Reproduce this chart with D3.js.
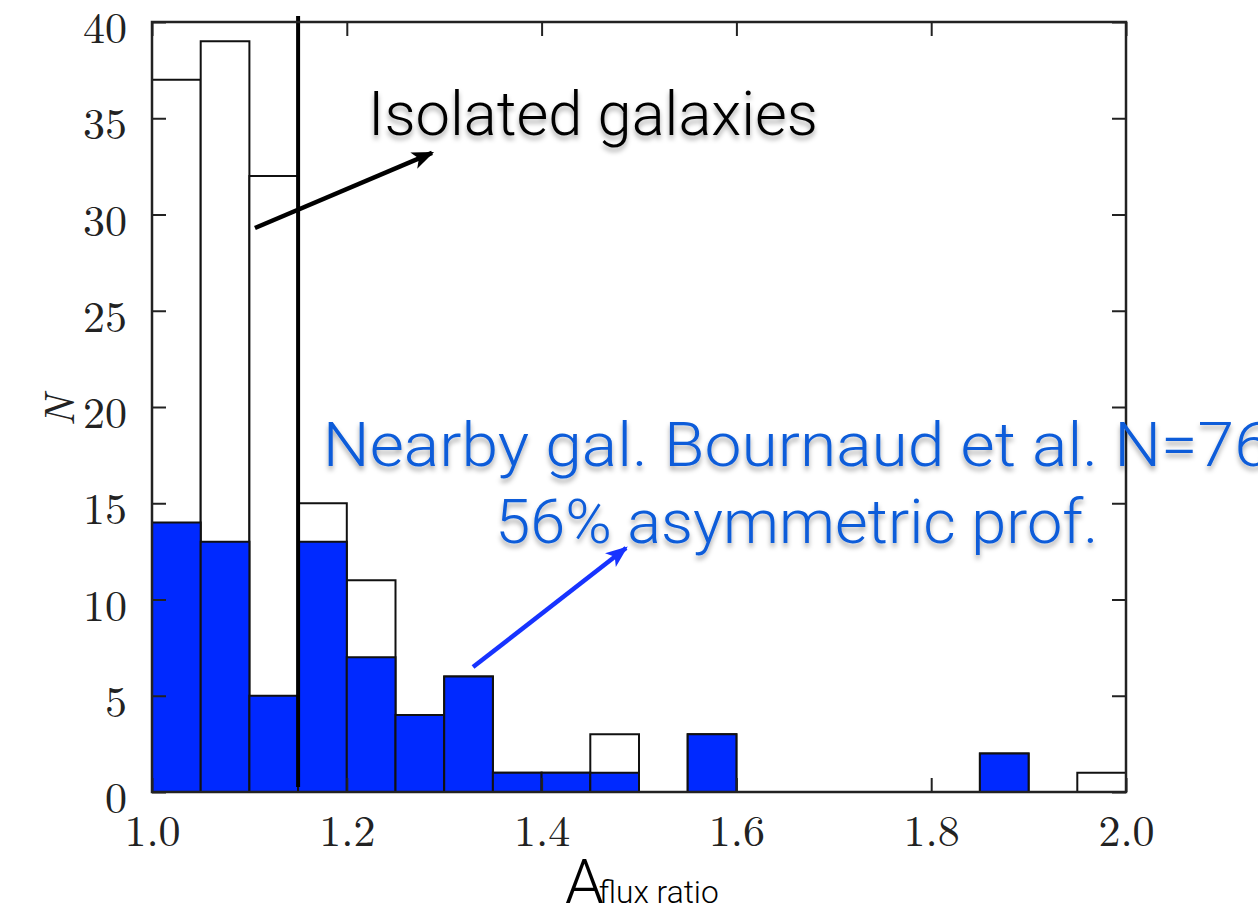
<!DOCTYPE html>
<html>
<head>
<meta charset="utf-8">
<script src="https://cdn.jsdelivr.net/npm/d3@7"></script>
<style>
  html, body { margin: 0; padding: 0; background: #fff; }
  svg { display: block; }
</style>
</head>
<body>
<svg id="chart" width="1258" height="911"></svg>
<script>
// Histogram bins of the flux-ratio asymmetry
const binEdges = [1.00, 1.05, 1.10, 1.15, 1.20, 1.25, 1.30, 1.35, 1.40, 1.45, 1.50,
                  1.55, 1.60, 1.65, 1.70, 1.75, 1.80, 1.85, 1.90, 1.95, 2.00];
// Isolated galaxies (open bars)
const isolatedCounts = [37, 39, 32, 15, 11, 4, 6, 1, 1, 3, 0, 3, 0, 0, 0, 0, 0, 2, 0, 1];
// Nearby galaxies, Bournaud et al. (filled bars)
const nearbyCounts   = [14, 13, 5, 13, 7, 4, 6, 1, 1, 1, 0, 3, 0, 0, 0, 0, 0, 2, 0, 0];
// Asymmetry threshold
const threshold = 1.15;

const xTicks = [1.0, 1.2, 1.4, 1.6, 1.8, 2.0];
const yTicks = [0, 5, 10, 15, 20, 25, 30, 35, 40];

const xDomain = [1.0, 2.0];
const yDomain = [0, 40];

// Annotation anchors in data units
const isolatedArrow = { from: [1.1057, 29.3], to: [1.2875, 33.2] };
const nearbyArrow   = { from: [1.3296, 6.49], to: [1.4867, 12.68] };
const isolatedText  = { x: 1.2218, y: 34.13, text: "Isolated galaxies" };
const nearbyText    = { x: 1.662, lines: [
  { y: 16.94, text: "Nearby gal. Bournaud et al. N=76" },
  { y: 12.94, text: "56% asymmetric prof." }
]};

(function draw() {
  const svg = d3.select("#chart");
  const pLeft = 152, pRight = 1126, pTop = 22, pBottom = 792;

  const x = d3.scaleLinear().domain(xDomain).range([pLeft, pRight]);
  const y = d3.scaleLinear().domain(yDomain).range([pBottom, pTop]);

  const defs = svg.append("defs");
  const shadow = defs.append("filter").attr("id", "txtShadow")
    .attr("x", "-10%").attr("y", "-30%").attr("width", "120%").attr("height", "170%");
  shadow.append("feDropShadow").attr("dx", 0).attr("dy", 4).attr("stdDeviation", 2.5)
    .attr("flood-color", "#000").attr("flood-opacity", 0.35);

  function arrowMarker(id, color) {
    defs.append("marker").attr("id", id)
      .attr("viewBox", "0 0 20 16").attr("refX", 18).attr("refY", 8)
      .attr("markerWidth", 22).attr("markerHeight", 18)
      .attr("markerUnits", "userSpaceOnUse").attr("orient", "auto")
      .append("path").attr("d", "M0,0 L20,8 L0,16 L5,8 Z").attr("fill", color);
  }
  arrowMarker("headBlack", "#000");
  arrowMarker("headBlue", "#1733ff");

  const bins = isolatedCounts.map((c, i) => ({
    x0: binEdges[i], x1: binEdges[i + 1], all: c, nearby: nearbyCounts[i]
  }));

  // Open bars: isolated sample
  svg.append("g").selectAll("rect")
    .data(bins.filter(d => d.all > 0))
    .join("rect")
    .attr("x", d => x(d.x0)).attr("width", d => x(d.x1) - x(d.x0))
    .attr("y", d => y(d.all)).attr("height", d => y(0) - y(d.all))
    .attr("fill", "#fff").attr("stroke", "#111").attr("stroke-width", 2);

  // Filled bars: nearby sample
  svg.append("g").selectAll("rect")
    .data(bins.filter(d => d.nearby > 0))
    .join("rect")
    .attr("x", d => x(d.x0)).attr("width", d => x(d.x1) - x(d.x0))
    .attr("y", d => y(d.nearby)).attr("height", d => y(0) - y(d.nearby))
    .attr("fill", "#0029ff").attr("stroke", "#111").attr("stroke-width", 2);

  // Threshold line
  svg.append("line")
    .attr("x1", x(threshold)).attr("x2", x(threshold))
    .attr("y1", pTop - 6).attr("y2", pBottom - 5)
    .attr("stroke", "#000").attr("stroke-width", 4);

  // Axes with inward ticks on all four sides
  const tickFont = "'Latin Modern Roman', 'CMU Serif', 'Liberation Serif', serif";
  const tickLen = 14;

  function styleAxis(g) {
    g.select(".domain").remove();
    g.selectAll(".tick line").attr("stroke", "#222").attr("stroke-width", 2);
    g.selectAll("text").attr("font-family", tickFont).attr("font-size", 44).attr("fill", "#222");
  }

  svg.append("g").attr("transform", `translate(0,${pBottom})`)
    .call(d3.axisBottom(x).tickValues(xTicks).tickFormat(d3.format(".1f"))
      .tickSize(-tickLen).tickPadding(23))
    .call(styleAxis);

  svg.append("g").attr("transform", `translate(0,${pTop})`)
    .call(d3.axisTop(x).tickValues(xTicks).tickFormat("").tickSize(-tickLen))
    .call(styleAxis);

  svg.append("g").attr("transform", `translate(${pLeft},0)`)
    .call(d3.axisLeft(y).tickValues(yTicks).tickFormat(d3.format("d"))
      .tickSize(-tickLen).tickPadding(25))
    .call(styleAxis)
    .selectAll("text").attr("dy", "0.47em");

  svg.append("g").attr("transform", `translate(${pRight},0)`)
    .call(d3.axisRight(y).tickValues(yTicks).tickFormat("").tickSize(-tickLen))
    .call(styleAxis);

  // Frame
  svg.append("rect")
    .attr("x", pLeft).attr("y", pTop).attr("width", pRight - pLeft).attr("height", pBottom - pTop)
    .attr("fill", "none").attr("stroke", "#222").attr("stroke-width", 2.5);

  // Axis titles
  svg.append("text")
    .attr("transform", `translate(74,411) rotate(-90)`)
    .attr("text-anchor", "middle")
    .attr("font-family", tickFont).attr("font-style", "italic").attr("font-size", 42)
    .attr("fill", "#222").text("N");

  const sansFont = "Roboto, 'Helvetica Neue', 'Liberation Sans', Arial, sans-serif";

  const xTitle = svg.append("text")
    .attr("x", 565).attr("y", 903)
    .attr("font-family", sansFont)
    .attr("font-weight", 300).attr("fill", "#000");
  xTitle.append("tspan").attr("font-size", 62).text("A");
  xTitle.append("tspan").attr("font-size", 31).attr("dx", -5)
    .attr("textLength", 120).attr("lengthAdjust", "spacingAndGlyphs").text("flux ratio");

  // Annotations
  svg.append("line")
    .attr("x1", x(isolatedArrow.from[0])).attr("y1", y(isolatedArrow.from[1]))
    .attr("x2", x(isolatedArrow.to[0])).attr("y2", y(isolatedArrow.to[1]))
    .attr("stroke", "#000").attr("stroke-width", 4.5).attr("marker-end", "url(#headBlack)");

  svg.append("line")
    .attr("x1", x(nearbyArrow.from[0])).attr("y1", y(nearbyArrow.from[1]))
    .attr("x2", x(nearbyArrow.to[0])).attr("y2", y(nearbyArrow.to[1]))
    .attr("stroke", "#1733ff").attr("stroke-width", 4.5).attr("marker-end", "url(#headBlue)");

  svg.append("text")
    .attr("x", x(isolatedText.x)).attr("y", y(isolatedText.y))
    .attr("font-family", sansFont).attr("font-weight", 300).attr("font-size", 62)
    .attr("textLength", 450).attr("lengthAdjust", "spacingAndGlyphs")
    .attr("fill", "#000").attr("filter", "url(#txtShadow)")
    .text(isolatedText.text);

  const lineLengths = [948, 603];
  svg.append("g").attr("filter", "url(#txtShadow)")
    .selectAll("text").data(nearbyText.lines).join("text")
    .attr("x", x(nearbyText.x)).attr("y", d => y(d.y))
    .attr("text-anchor", "middle")
    .attr("font-family", sansFont).attr("font-weight", 300).attr("font-size", 62)
    .attr("textLength", (d, i) => lineLengths[i]).attr("lengthAdjust", "spacingAndGlyphs")
    .attr("fill", "#0b5bd9")
    .text(d => d.text);
})();
</script>
</body>
</html>
